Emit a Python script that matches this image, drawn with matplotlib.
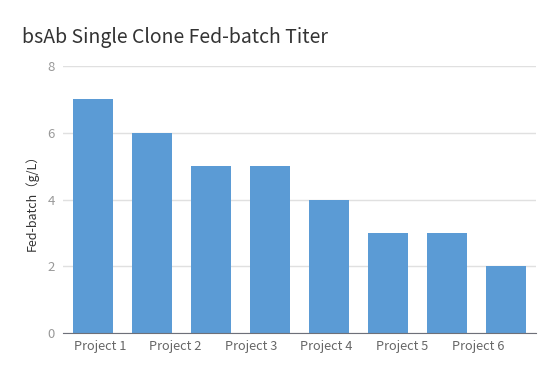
import matplotlib
matplotlib.use('Agg')
import matplotlib.pyplot as plt
import numpy as np

# chart data
titers = [7, 6, 5, 5, 4, 3, 3, 2]
project_labels = ['Project 1', 'Project 2', 'Project 3', 'Project 4', 'Project 5', 'Project 6']
y_ticks = [0, 2, 4, 6, 8]

plt.rcParams['font.family'] = ['Noto Sans CJK SC', 'DejaVu Sans']

fig = plt.figure(figsize=(5.6, 3.76), dpi=100)
ax = fig.add_axes([0.113, 0.1136, 0.8436, 0.7109])

x = np.arange(len(titers))
ax.bar(x, titers, width=0.68, color='#5b9bd5', zorder=3)

ax.set_xlim(-0.5, len(titers) - 0.5)
ax.set_ylim(0, 8)
ax.set_yticks(y_ticks)
ax.set_yticklabels([str(v) for v in y_ticks], color='#999999', fontsize=9.5)
ax.grid(axis='y', color='#e0e0e0', linewidth=1, zorder=0)

# the axis labels only cover six of the eight bars, spread across the axis
label_pos = np.linspace(0.12, 6.52, len(project_labels))
ax.set_xticks(label_pos)
ax.set_xticklabels(project_labels, color='#666666', fontsize=9.2)

ax.tick_params(axis='both', length=0, pad=6)
ax.tick_params(axis='x', pad=5)
for side in ['top', 'right', 'left']:
    ax.spines[side].set_visible(False)
ax.spines['bottom'].set_color('#6e7079')
ax.spines['bottom'].set_zorder(4)

ax.set_ylabel('Fed-batch（g/L）', fontsize=9, color='#333333', labelpad=6)

fig.text(0.039, 0.9, 'bsAb Single Clone Fed-batch Titer', fontsize=14, color='#333333',
         va='center', ha='left')

fig.savefig('out.png', dpi=100)
